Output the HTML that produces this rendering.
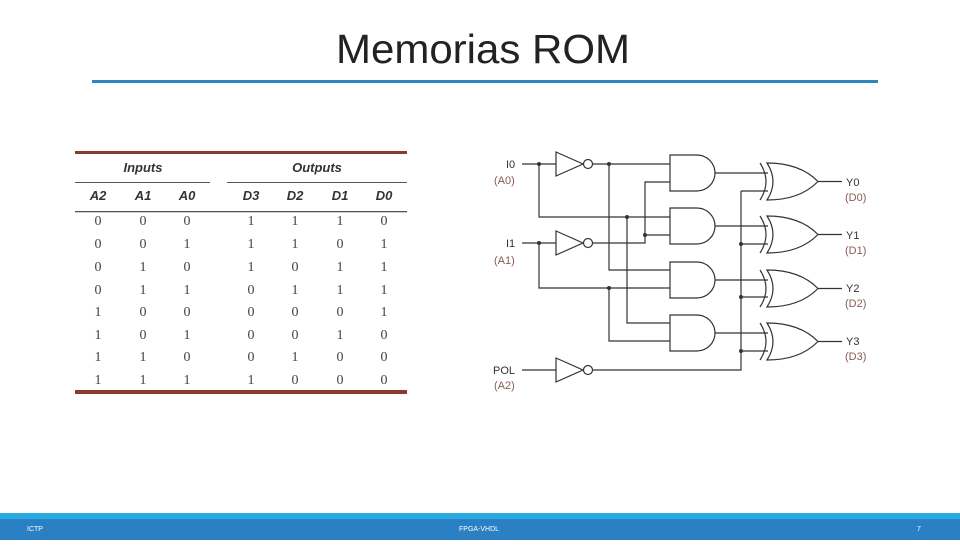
<!DOCTYPE html>
<html><head><meta charset="utf-8"><style>
body{margin:0;width:960px;height:540px;overflow:hidden;background:#fff;font-family:"Liberation Sans",sans-serif}
</style></head><body>
<svg width="960" height="540" xmlns="http://www.w3.org/2000/svg">
<text x="483" y="63" text-anchor="middle" font-family="Liberation Sans, sans-serif" font-size="41" fill="#222" textLength="294" lengthAdjust="spacingAndGlyphs">Memorias ROM</text>
<rect x="92" y="80" width="786" height="3" fill="#2e86c1"/>

<!-- table -->
<rect x="75" y="151" width="332" height="3" fill="#8b3a32"/>
<rect x="75" y="390" width="332" height="4" fill="#8b3a32"/>
<rect x="75" y="182" width="135" height="1" fill="#555"/>
<rect x="227" y="182" width="180" height="1" fill="#555"/>
<rect x="75" y="211" width="332" height="1.3" fill="#555"/>
<g font-family="Liberation Sans, sans-serif" font-style="italic" font-weight="bold" font-size="13" fill="#333" text-anchor="middle">
<text x="143" y="172">Inputs</text><text x="317" y="172">Outputs</text>
<text x="98" y="200">A2</text><text x="143" y="200">A1</text><text x="187" y="200">A0</text>
<text x="251" y="200">D3</text><text x="295" y="200">D2</text><text x="340" y="200">D1</text><text x="384" y="200">D0</text>
</g>
<g font-family="Liberation Serif, serif" font-size="14" fill="#444" text-anchor="middle">
<text y="225"><tspan x="98">0</tspan><tspan x="143">0</tspan><tspan x="187">0</tspan><tspan x="251">1</tspan><tspan x="295">1</tspan><tspan x="340">1</tspan><tspan x="384">0</tspan></text>
<text y="248"><tspan x="98">0</tspan><tspan x="143">0</tspan><tspan x="187">1</tspan><tspan x="251">1</tspan><tspan x="295">1</tspan><tspan x="340">0</tspan><tspan x="384">1</tspan></text>
<text y="271"><tspan x="98">0</tspan><tspan x="143">1</tspan><tspan x="187">0</tspan><tspan x="251">1</tspan><tspan x="295">0</tspan><tspan x="340">1</tspan><tspan x="384">1</tspan></text>
<text y="294"><tspan x="98">0</tspan><tspan x="143">1</tspan><tspan x="187">1</tspan><tspan x="251">0</tspan><tspan x="295">1</tspan><tspan x="340">1</tspan><tspan x="384">1</tspan></text>
<text y="316"><tspan x="98">1</tspan><tspan x="143">0</tspan><tspan x="187">0</tspan><tspan x="251">0</tspan><tspan x="295">0</tspan><tspan x="340">0</tspan><tspan x="384">1</tspan></text>
<text y="339"><tspan x="98">1</tspan><tspan x="143">0</tspan><tspan x="187">1</tspan><tspan x="251">0</tspan><tspan x="295">0</tspan><tspan x="340">1</tspan><tspan x="384">0</tspan></text>
<text y="361"><tspan x="98">1</tspan><tspan x="143">1</tspan><tspan x="187">0</tspan><tspan x="251">0</tspan><tspan x="295">1</tspan><tspan x="340">0</tspan><tspan x="384">0</tspan></text>
<text y="384"><tspan x="98">1</tspan><tspan x="143">1</tspan><tspan x="187">1</tspan><tspan x="251">1</tspan><tspan x="295">0</tspan><tspan x="340">0</tspan><tspan x="384">0</tspan></text>
</g>

<!-- circuit -->
<g stroke="#333" stroke-width="1.2" fill="none">
<path d="M522 164H556M522 243H556M522 370H556"/>
<path d="M556 152L583 164L556 176Z M556 231L583 243L556 255Z M556 358L583 370L556 382Z" fill="#fff"/>
<circle cx="588" cy="164" r="4.5" fill="#fff"/><circle cx="588" cy="243" r="4.5" fill="#fff"/><circle cx="588" cy="370" r="4.5" fill="#fff"/>
<path d="M592 164H670M609 164V270H670"/>
<path d="M539 164V217H670M627 217V323H670"/>
<path d="M592 243H645V182H670M645 235H670"/>
<path d="M539 243V288H670M609 288V341H670"/>
<path d="M592 370H741V191"/>
<path d="M670 155H697A18 18 0 0 1 697 191H670Z M670 208H697A18 18 0 0 1 697 244H670Z M670 262H697A18 18 0 0 1 697 298H670Z M670 315H697A18 18 0 0 1 697 351H670Z" fill="#fff"/>
<path d="M715 173H768M741 191H768M715 226H768M741 244H768M715 280H768M741 297H768M715 333H768M741 351H768"/>
<g id="x">
<path d="M760 163Q772 181.5 760 200"/>
<path d="M767 163Q779 181.5 767 200Q800 200 818 181.5Q800 163 767 163Z" fill="#fff"/>
<path d="M818 181.5H842"/>
</g>
<use href="#x" y="53"/><use href="#x" y="107"/><use href="#x" y="160"/>
</g>
<g fill="#333">
<circle cx="539" cy="164" r="2"/><circle cx="609" cy="164" r="2"/><circle cx="539" cy="243" r="2"/>
<circle cx="627" cy="217" r="2"/><circle cx="645" cy="235" r="2"/><circle cx="609" cy="288" r="2"/>
<circle cx="741" cy="244" r="2"/><circle cx="741" cy="297" r="2"/><circle cx="741" cy="351" r="2"/>
</g>
<g font-family="Liberation Sans, sans-serif" font-size="11">
<text x="506" y="168" fill="#333">I0</text><text x="494" y="184" fill="#8a5a55">(A0)</text>
<text x="506" y="247" fill="#333">I1</text><text x="494" y="264" fill="#8a5a55">(A1)</text>
<text x="493" y="374" fill="#333">POL</text><text x="494" y="389" fill="#8a5a55">(A2)</text>
<text x="846" y="186" fill="#333">Y0</text><text x="845" y="201" fill="#8a5a55">(D0)</text>
<text x="846" y="239" fill="#333">Y1</text><text x="845" y="254" fill="#8a5a55">(D1)</text>
<text x="846" y="292" fill="#333">Y2</text><text x="845" y="307" fill="#8a5a55">(D2)</text>
<text x="846" y="345" fill="#333">Y3</text><text x="845" y="360" fill="#8a5a55">(D3)</text>
</g>

<rect x="0" y="513" width="960" height="6" fill="#29abe2"/>
<rect x="0" y="519" width="960" height="21" fill="#2a80c2"/>
<g font-family="Liberation Sans, sans-serif" font-size="7" fill="#fff">
<text x="27" y="531">ICTP</text><text x="459" y="531">FPGA-VHDL</text><text x="917" y="531">7</text>
</g>
</svg>
</body></html>
